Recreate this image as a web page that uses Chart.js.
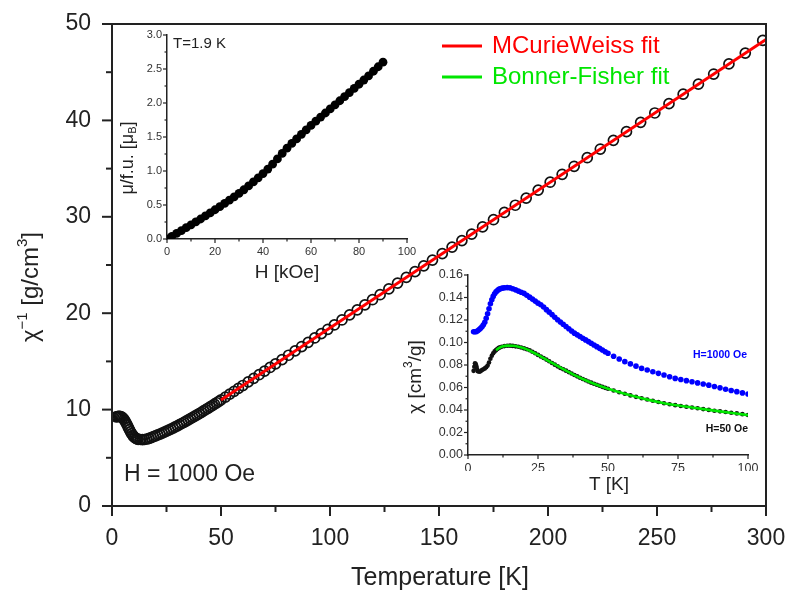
<!DOCTYPE html>
<html>
<head>
<meta charset="utf-8">
<script src="https://cdn.jsdelivr.net/npm/chart.js@4.4.1/dist/chart.umd.min.js"></script>
<style>
  body { margin: 0; background: #fff; }
  #wrap { position: relative; width: 786px; height: 592px; }
  #wrap canvas { position: absolute; left: 0; top: 0; }
</style>
</head>
<body>
<div id="wrap">
  <canvas id="mainChart" width="786" height="592"></canvas>
  <canvas id="mhChart" width="786" height="592"></canvas>
  <canvas id="chiChart" width="786" height="592"></canvas>
</div>
<script>
// inverse susceptibility, H = 1000 Oe
const tempK = [1.9, 2.5, 3, 3.5, 4, 4.5, 5, 5.5, 6, 6.5, 7, 7.5, 8, 8.5, 9, 9.5, 10, 10.5, 11, 11.5, 12,
  13, 14, 15, 16, 17, 18, 19, 20, 21, 22, 23, 24, 25, 26, 27, 28, 29, 30, 31, 32, 33, 34, 35, 36, 37, 38, 39, 40,
  41, 42, 43, 44, 45, 46, 47, 48, 49, 50,
  52, 54, 56, 58, 60, 62.5, 65, 67.5, 70, 72.5, 75, 78, 81, 84, 87, 90, 93, 96, 99, 102,
  105.5, 109, 112.5, 116, 119.5, 123, 127, 131, 135, 139, 143, 147, 151.5, 156, 160.5, 165,
  170, 175, 180, 185, 190, 195.5, 201, 206.5, 212, 218, 224, 230, 236, 242.5, 249, 255.5, 262,
  269, 276, 283, 290.5, 298.5];
const chiInv = [9.25, 9.28, 9.3, 9.3, 9.28, 9.22, 9.12, 8.98, 8.8, 8.6, 8.38, 8.15, 7.92, 7.7, 7.5, 7.34, 7.2, 7.1, 7.02, 6.96, 6.92,
  6.9, 6.88, 6.9, 6.95, 7.02, 7.1, 7.19, 7.28, 7.37, 7.46, 7.56, 7.66, 7.76, 7.87, 7.98, 8.09, 8.2, 8.32, 8.44, 8.56, 8.68, 8.8, 8.93, 9.06, 9.19, 9.32, 9.45, 9.58,
  9.72, 9.86, 10.0, 10.14, 10.28, 10.42, 10.57, 10.71, 10.86, 11.0,
  11.3, 11.6, 11.9, 12.2, 12.5, 12.87, 13.24, 13.62, 13.99, 14.37, 14.74, 15.19, 15.64, 16.09, 16.54, 16.98, 17.43, 17.88, 18.33, 18.78,
  19.3, 19.83, 20.35, 20.87, 21.4, 21.92, 22.52, 23.12, 23.72, 24.31, 24.91, 25.51, 26.18, 26.86, 27.53, 28.2,
  28.95, 29.7, 30.45, 31.2, 31.94, 32.77, 33.59, 34.41, 35.24, 36.13, 37.03, 37.93, 38.83, 39.8, 40.77, 41.74, 42.72,
  43.76, 44.81, 45.86, 46.98, 48.3];
// modified Curie-Weiss fit
const cwFitT = [50, 300];
const cwFitChiInv = [11.0, 48.4];

// magnetisation at T = 1.9 K
const fieldKOe = [0, 2, 4, 6, 8, 10, 12, 14, 16, 18, 20, 22, 24, 26, 28, 30, 32, 34, 36, 38, 40, 42, 44, 46, 48,
  50, 52, 54, 56, 58, 60, 62, 64, 66, 68, 70, 72, 74, 76, 78, 80, 82, 84, 86, 88, 90];
const momentMuB = [0.0, 0.04, 0.082, 0.124, 0.166, 0.208, 0.251, 0.294, 0.339, 0.384, 0.43, 0.476, 0.523, 0.571, 0.62,
  0.67, 0.724, 0.781, 0.84, 0.9, 0.962, 1.028, 1.1, 1.178, 1.258, 1.335, 1.405, 1.472, 1.54, 1.606, 1.67, 1.733,
  1.793, 1.853, 1.913, 1.973, 2.033, 2.093, 2.154, 2.215, 2.276, 2.338, 2.4, 2.467, 2.533, 2.6];

// susceptibility, H = 1000 Oe
const tHigh = [2, 2.5, 3, 3.5, 4, 4.5, 5, 5.5, 6, 6.5, 7, 7.5, 8, 8.5, 9, 9.5, 10, 10.5, 11, 11.5, 12, 12.5, 13,
  14, 15, 16, 17, 18, 19, 20, 21, 22, 23, 24, 25, 26, 27, 28, 29, 30,
  31, 32, 33, 34, 35, 36, 37, 38, 39, 40, 41, 42, 43, 44, 45, 46, 47, 48, 49, 50,
  52, 54, 56, 58, 60, 62, 64, 66, 68, 70, 72, 74, 76, 78, 80, 82, 84, 86, 88, 90, 92, 94, 96, 98, 100];
const chiHigh = [0.1095, 0.1096, 0.1098, 0.1105, 0.1115, 0.1126, 0.114, 0.1158, 0.118, 0.1215, 0.1255, 0.13, 0.1345,
  0.138, 0.141, 0.1433, 0.145, 0.1462, 0.1472, 0.1478, 0.1482, 0.1485, 0.1487,
  0.1488, 0.1486, 0.1478, 0.1468, 0.1457, 0.1447, 0.1437,
  0.142, 0.1403, 0.1386, 0.1368, 0.135, 0.1335, 0.1315, 0.1292, 0.127, 0.1248,
  0.1225, 0.1202, 0.1182, 0.1162, 0.1142, 0.1122, 0.1102, 0.1083, 0.1068, 0.1053,
  0.1038, 0.1023, 0.1008, 0.0993, 0.0978, 0.0963, 0.0948, 0.0933, 0.0918, 0.0904,
  0.0878, 0.0853, 0.083, 0.081, 0.079, 0.077, 0.0755, 0.074, 0.0726, 0.0711, 0.0696, 0.0681, 0.0671,
  0.0661, 0.0651, 0.0641, 0.0631, 0.0621, 0.0609, 0.0597, 0.0585, 0.0574, 0.0563, 0.0552, 0.0542];

// susceptibility, H = 50 Oe
const tLow = [2, 2.25, 2.5, 2.75, 3, 3.25, 3.5, 4, 4.5, 5, 5.5, 6, 6.5, 7, 7.5, 8, 8.5, 9, 9.5, 10, 10.5, 11, 11.5, 12, 13,
  14, 15, 16, 17, 18, 19, 20, 21, 22, 23, 24, 25, 26, 27,
  28, 29, 30, 31, 32, 33, 34, 35, 36, 37, 38, 39, 40, 41, 42, 43, 44, 45, 46, 47, 48, 49, 50,
  52, 54, 56, 58, 60, 62, 64, 66, 68, 70, 72, 74, 76, 78, 80, 82, 84, 86, 88, 90, 92, 94, 96, 98, 100];
const chiLow = [0.0748, 0.0785, 0.0815, 0.0808, 0.079, 0.0765, 0.0745, 0.074, 0.0745,
  0.0755, 0.0762, 0.077, 0.078, 0.0795, 0.0822, 0.0855, 0.0882, 0.0905, 0.0921, 0.0932, 0.0943, 0.0952, 0.0958, 0.0962, 0.0968,
  0.0971, 0.0972, 0.097, 0.0966, 0.0962, 0.0955, 0.0948, 0.094, 0.0931, 0.0918, 0.0904,
  0.089, 0.0876, 0.0862, 0.0848, 0.0833, 0.0818, 0.0803, 0.0788, 0.0774, 0.0762,
  0.075, 0.0737, 0.0724, 0.0711, 0.0699, 0.0687, 0.0676, 0.0665, 0.0654, 0.0643,
  0.0633, 0.0624, 0.0615, 0.0606, 0.0597, 0.0589,
  0.0573, 0.0558, 0.0544, 0.053, 0.0517, 0.0505, 0.0493, 0.0482, 0.0471, 0.046, 0.0451, 0.0443, 0.0436,
  0.0429, 0.0422, 0.0415, 0.0408, 0.0401, 0.0394, 0.0388, 0.0382, 0.0376, 0.037, 0.0363, 0.0356];
// Bonner-Fisher fit
const bfFitT = [10, 11, 12.5, 14, 16, 18, 20, 25, 30, 35, 40, 45, 50, 60, 70, 80, 90, 100];
const bfFitChi = [0.0932, 0.095, 0.0966, 0.0972, 0.0971, 0.0963, 0.0949, 0.089, 0.0818, 0.075, 0.0687, 0.0633,
  0.0589, 0.0517, 0.046, 0.0422, 0.0388, 0.0354];

const FONT = 'Arial, "Liberation Sans", Helvetica, sans-serif';
const INK = '#222';
const RED = '#ff0000';
const GREEN = '#00e600';
const BLUE = '#0000ff';
Chart.defaults.font.family = FONT;
Chart.defaults.color = INK;

const xy = (xs, ys) => xs.map((x, i) => ({ x, y: ys[i] }));

// text with super/subscripts, anchored at (x, y)
function richText(ctx, parts, x, y, size, color, angle, align) {
  ctx.save();
  ctx.translate(x, y);
  ctx.rotate(angle || 0);
  ctx.fillStyle = color;
  ctx.textBaseline = 'middle';
  const small = Math.round(size * 0.62);
  const fontOf = k => (k ? small : size) + 'px ' + FONT;
  const widths = parts.map(([t, k]) => { ctx.font = fontOf(k); return ctx.measureText(t).width; });
  const total = widths.reduce((a, b) => a + b, 0);
  let cx = align === 'left' ? 0 : align === 'right' ? -total : -total / 2;
  parts.forEach(([t, k], i) => {
    ctx.font = fontOf(k);
    const dy = k === 'sup' ? -size * 0.36 : k === 'sub' ? size * 0.28 : 0;
    ctx.textAlign = 'left';
    ctx.fillText(t, cx, dy);
    cx += widths[i];
  });
  ctx.restore();
}

// outward major/minor ticks and optional frame
const tickMarks = {
  id: 'tickMarks',
  afterDatasetsDraw(chart, args, opts) {
    const { ctx, chartArea: a } = chart;
    ctx.save();
    ctx.strokeStyle = INK;
    ctx.lineWidth = opts.width;
    for (const id of ['x', 'y']) {
      const s = chart.scales[id];
      const step = opts[id];
      const n = Math.round((s.max - s.min) / step);
      for (let i = 0; i <= n; i++) {
        const p = s.getPixelForValue(s.min + i * step);
        const len = i % 2 === 0 ? opts.major : opts.minor;
        ctx.beginPath();
        if (id === 'x') { ctx.moveTo(p, a.bottom); ctx.lineTo(p, a.bottom + len); }
        else { ctx.moveTo(a.left, p); ctx.lineTo(a.left - len, p); }
        ctx.stroke();
      }
    }
    if (opts.frame) {
      ctx.lineWidth = opts.frame;
      ctx.strokeRect(a.left, a.top, a.right - a.left, a.bottom - a.top);
    }
    ctx.restore();
  }
};

// axis titles, legend and notes
const notes = {
  id: 'notes',
  afterDraw(chart, args, opts) {
    const ctx = chart.ctx;
    for (const n of opts.items) {
      if (n.line) {
        ctx.save();
        ctx.strokeStyle = n.color;
        ctx.lineWidth = 3;
        ctx.beginPath();
        ctx.moveTo(n.line[0], n.y);
        ctx.lineTo(n.line[1], n.y);
        ctx.stroke();
        ctx.restore();
        continue;
      }
      if (n.bold) {
        ctx.save();
        ctx.font = 'bold ' + n.size + 'px ' + FONT;
        ctx.fillStyle = n.color;
        ctx.textBaseline = 'middle';
        ctx.textAlign = n.align || 'left';
        ctx.fillText(n.parts[0][0], n.x, n.y);
        ctx.restore();
        continue;
      }
      richText(ctx, n.parts, n.x, n.y, n.size, n.color || INK, n.angle, n.align);
    }
  }
};

function axis(min, max, step, fixed, labelFont, pad, digits) {
  return {
    type: 'linear', min, max,
    grid: { display: true, drawOnChartArea: false, drawTicks: false },
    border: { display: true, color: INK, width: fixed.border },
    ticks: {
      stepSize: step, autoSkip: false, maxRotation: 0, padding: pad,
      font: { size: labelFont }, color: fixed.color || INK,
      callback: v => digits ? Number(v).toFixed(digits) : String(Math.round(v))
    },
    afterFit: s => {
      if (fixed.w) s.width = fixed.w;
      if (fixed.h) s.height = fixed.h;
      s.paddingTop = s.paddingBottom = s.paddingLeft = s.paddingRight = 0;
    }
  };
}

const common = {
  responsive: false, animation: false, events: [],
  plugins: { legend: { display: false }, tooltip: { enabled: false } }
};

new Chart(document.getElementById('mainChart'), {
  type: 'scatter',
  data: {
    datasets: [
      {
        data: xy(cwFitT, cwFitChiInv), showLine: true, borderColor: RED, borderWidth: 3,
        pointRadius: 0
      },
      {
        data: xy(tempK, chiInv), showLine: false, pointStyle: 'circle', pointRadius: 5,
        borderColor: '#111', backgroundColor: 'rgba(0,0,0,0)', pointBorderWidth: 1.7
      }
    ]
  },
  options: {
    ...common,
    layout: { autoPadding: false, padding: { left: 0, top: 24, right: 20, bottom: 0 } },
    scales: {
      x: axis(0, 300, 50, { h: 86, border: 2 }, 23, 19, 0),
      y: axis(0, 50, 10, { w: 112, border: 2 }, 23, 21, 0)
    },
    plugins: {
      ...common.plugins,
      tickMarks: { x: 25, y: 5, major: 10, minor: 6, width: 2, frame: 2 },
      notes: {
        items: [
          { parts: [['Temperature [K]']], x: 440, y: 578, size: 25 },
          { parts: [['\u03c7'], ['\u22121', 'sup'], [' [g/cm'], ['3', 'sup'], [']']], x: 31, y: 287, size: 24, angle: -Math.PI / 2 },
          { parts: [['H = 1000 Oe']], x: 124, y: 475, size: 23, align: 'left' },
          { line: [442, 482], y: 46, color: RED },
          { parts: [['MCurieWeiss fit']], x: 492, y: 46, size: 24, color: RED, align: 'left' },
          { line: [442, 482], y: 77, color: GREEN },
          { parts: [['Bonner-Fisher fit']], x: 492, y: 77, size: 24, color: GREEN, align: 'left' }
        ]
      }
    }
  },
  plugins: [tickMarks, notes]
});

new Chart(document.getElementById('mhChart'), {
  type: 'scatter',
  data: {
    datasets: [{
      data: xy(fieldKOe, momentMuB), pointRadius: 4.4, pointBorderWidth: 0,
      backgroundColor: '#000', borderColor: '#000'
    }]
  },
  options: {
    ...common,
    layout: { autoPadding: false, padding: { left: 137, top: 35, right: 379, bottom: 337 } },
    scales: {
      x: axis(0, 100, 20, { h: 16, border: 1.5, color: '#333' }, 11, 6, 0),
      y: axis(0, 3, 0.5, { w: 30, border: 1.5, color: '#333' }, 11, 5, 1)
    },
    plugins: {
      ...common.plugins,
      tickMarks: { x: 10, y: 0.25, major: 4, minor: 2.5, width: 1.2, frame: 0 },
      notes: {
        items: [
          { parts: [['T=1.9 K']], x: 173, y: 44, size: 15, align: 'left' },
          { parts: [['H [kOe]']], x: 287, y: 273, size: 19 },
          { parts: [['\u03bc/f.u. [\u03bc'], ['B', 'sub'], [']']], x: 128, y: 158, size: 18, angle: -Math.PI / 2 }
        ]
      }
    }
  },
  plugins: [tickMarks, notes]
});

new Chart(document.getElementById('chiChart'), {
  type: 'scatter',
  data: {
    datasets: [
      {
        data: xy(bfFitT, bfFitChi), showLine: true, borderColor: GREEN, borderWidth: 2.6,
        pointRadius: 0, cubicInterpolationMode: 'monotone'
      },
      {
        data: xy(tLow, chiLow), pointRadius: 2.3, pointBorderWidth: 0,
        backgroundColor: '#111', borderColor: '#111'
      },
      {
        data: xy(tHigh, chiHigh), pointRadius: 2.8, pointBorderWidth: 0,
        backgroundColor: BLUE, borderColor: BLUE
      }
    ]
  },
  options: {
    ...common,
    layout: { autoPadding: false, padding: { left: 428, top: 275, right: 38, bottom: 121 } },
    scales: {
      x: axis(0, 100, 25, { h: 16, border: 1.5, color: '#333' }, 12.5, 6, 0),
      y: axis(0, 0.16, 0.02, { w: 40, border: 1.5, color: '#333' }, 12.5, 5, 2)
    },
    plugins: {
      ...common.plugins,
      tickMarks: { x: 12.5, y: 0.01, major: 4, minor: 2.5, width: 1.2, frame: 0 },
      notes: {
        items: [
          { parts: [['T [K]']], x: 609, y: 485, size: 19 },
          { parts: [['\u03c7 [cm'], ['3', 'sup'], ['/g]']], x: 416, y: 377, size: 19, angle: -Math.PI / 2 },
          { parts: [['H=1000 Oe']], x: 693, y: 355, size: 10.5, color: BLUE, bold: true },
          { parts: [['H=50 Oe']], x: 748, y: 429, size: 10.5, color: '#111', bold: true, align: 'right' }
        ]
      }
    }
  },
  plugins: [tickMarks, notes]
});
</script>
</body>
</html>
